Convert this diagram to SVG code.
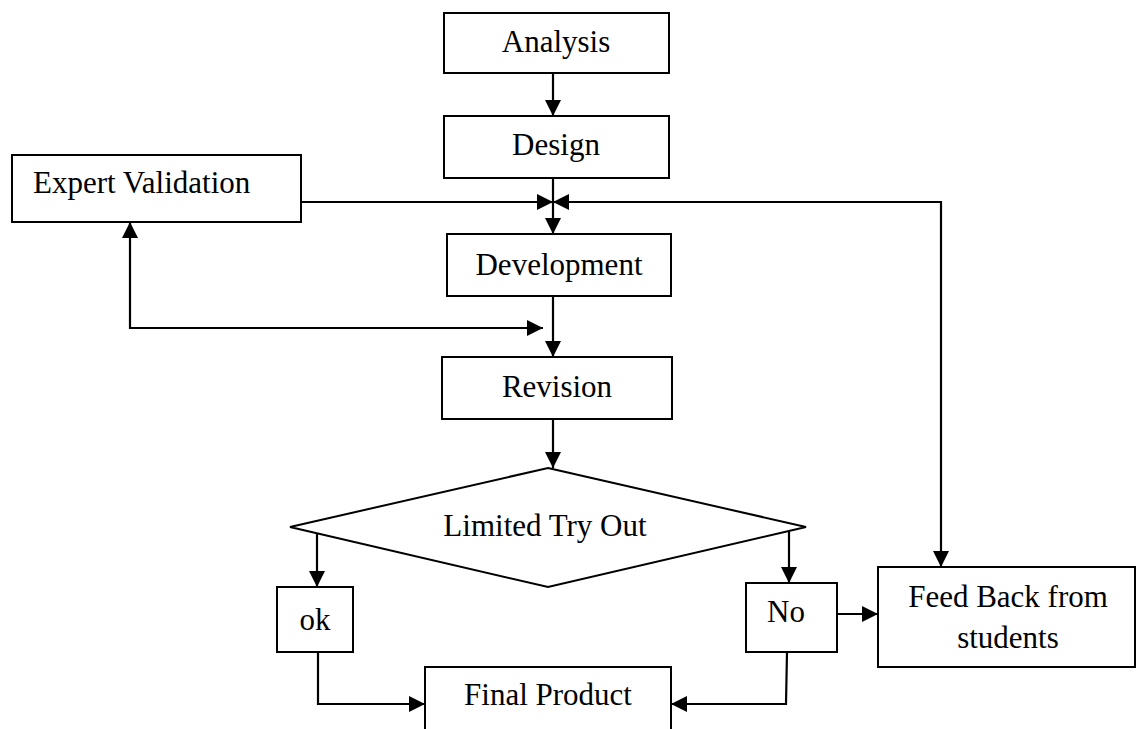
<svg xmlns="http://www.w3.org/2000/svg" width="1139" height="729" viewBox="0 0 1139 729">
<style>
.box{fill:#fff;stroke:#000;stroke-width:2}
.t{font-family:"Liberation Serif","Times New Roman",serif;font-size:31px;fill:#000;text-anchor:middle}
.c{fill:none;stroke:#000;stroke-width:2.2}
</style>
<defs>
<marker id="ah" markerUnits="userSpaceOnUse" markerWidth="16" markerHeight="16" refX="15" refY="7.5" orient="auto-start-reverse" viewBox="0 0 15 15">
<path d="M0,0 L15,7.5 L0,15 z" fill="#000"/>
</marker>
</defs>
<rect width="1139" height="729" fill="#fff"/>
<g id="connectors">
<line class="c" x1="553" y1="73" x2="553" y2="116" marker-end="url(#ah)"/>
<line class="c" x1="553" y1="178" x2="553" y2="234" marker-end="url(#ah)"/>
<line class="c" x1="301" y1="202" x2="553" y2="202" marker-end="url(#ah)"/>
<polyline class="c" points="941,567 941,202 553,202" marker-start="url(#ah)" marker-end="url(#ah)"/>
<polyline class="c" points="130,222 130,328 543,328" marker-start="url(#ah)" marker-end="url(#ah)"/>
<line class="c" x1="553" y1="296" x2="553" y2="357" marker-end="url(#ah)"/>
<line class="c" x1="553" y1="419" x2="553" y2="468" marker-end="url(#ah)"/>
<line class="c" x1="317" y1="533" x2="317" y2="587" marker-end="url(#ah)"/>
<line class="c" x1="789" y1="531" x2="789" y2="583" marker-end="url(#ah)"/>
<line class="c" x1="837" y1="614" x2="878" y2="614" marker-end="url(#ah)"/>
<polyline class="c" points="318,652 318,704 425,704" marker-end="url(#ah)"/>
<polyline class="c" points="787,652 786,704 671,704" marker-end="url(#ah)"/>
</g>
<g id="analysis"><rect class="box" x="444" y="13" width="225" height="60"/><text class="t" x="556" y="52">Analysis</text></g>
<g id="design"><rect class="box" x="444" y="116" width="225" height="62"/><text class="t" x="556" y="155">Design</text></g>
<g id="expert-validation"><rect class="box" x="12" y="155" width="289" height="67"/><text class="t" x="33" y="193" style="text-anchor:start">Expert Validation</text></g>
<g id="development"><rect class="box" x="447" y="234" width="224" height="62"/><text class="t" x="559" y="275">Development</text></g>
<g id="revision"><rect class="box" x="442" y="357" width="230" height="62"/><text class="t" x="557" y="397">Revision</text></g>
<g id="limited-try-out"><polygon class="box" points="548,468 806,527 548,587 290,527"/><text class="t" x="545" y="536">Limited Try Out</text></g>
<g id="ok"><rect class="box" x="277" y="587" width="76" height="65"/><text class="t" x="315" y="630">ok</text></g>
<g id="no"><rect class="box" x="746" y="583" width="91" height="69"/><text class="t" x="786" y="622">No</text></g>
<g id="feedback"><rect class="box" x="878" y="567" width="257" height="100"/><text class="t" x="1008" y="607">Feed Back from</text><text class="t" x="1008" y="648">students</text></g>
<g id="final-product"><rect class="box" x="425" y="667" width="246" height="80"/><text class="t" x="548" y="705">Final Product</text></g>
</svg>
